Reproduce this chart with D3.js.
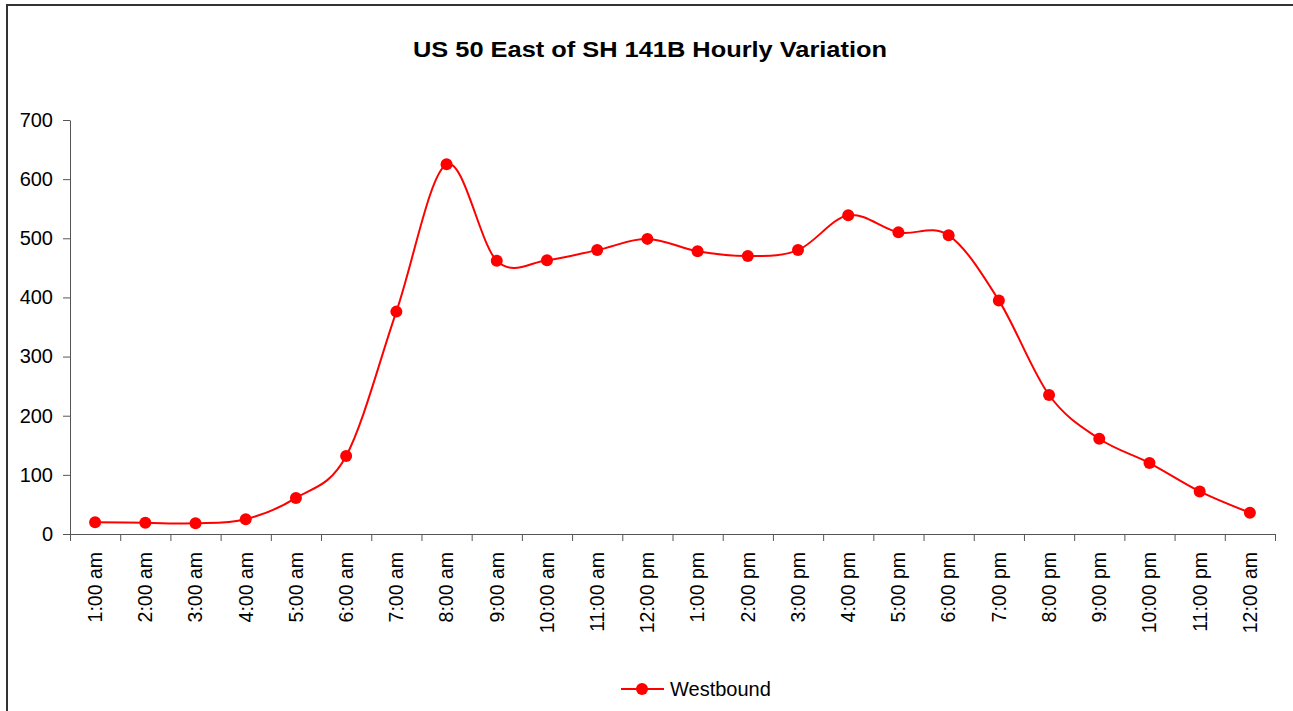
<!DOCTYPE html>
<html>
<head>
<meta charset="utf-8">
<script src="https://cdn.jsdelivr.net/npm/d3@7"></script>
<style>
  body { margin: 0; background: #fff; }
  svg { display: block; font-family: "Liberation Sans", Arial, sans-serif; }
</style>
</head>
<body>
<svg id="chart" width="1293" height="711"></svg>
<script>
const hours = ["1:00 am", "2:00 am", "3:00 am", "4:00 am", "5:00 am", "6:00 am",
    "7:00 am", "8:00 am", "9:00 am", "10:00 am", "11:00 am", "12:00 pm",
    "1:00 pm", "2:00 pm", "3:00 pm", "4:00 pm", "5:00 pm", "6:00 pm",
    "7:00 pm", "8:00 pm", "9:00 pm", "10:00 pm", "11:00 pm", "12:00 am"];
const westbound = [20, 19, 18, 25, 61, 132, 376, 625, 462, 463, 480, 499,
    478, 470, 480, 539, 510, 505, 395, 235, 161, 120, 72, 36];
const yTicks = [0, 100, 200, 300, 400, 500, 600, 700];
const seriesName = "Westbound";
const title = "US 50 East of SH 141B Hourly Variation";

const margin = { left: 70, right: 18, top: 120, bottom: 177 };
const W = 1293, H = 711;
const width = W - margin.left - margin.right;
const height = H - margin.top - margin.bottom;

const svg = d3.select("#chart");

// chart frame (right/bottom edges are cut off in the original)
svg.append("rect")
    .attr("x", 7).attr("y", 5)
    .attr("width", W + 20).attr("height", H + 20)
    .attr("fill", "none")
    .attr("stroke", "#333")
    .attr("stroke-width", 2);

svg.append("text")
    .attr("x", 650).attr("y", 57)
    .attr("text-anchor", "middle")
    .attr("font-size", 22)
    .attr("font-weight", "bold")
    .attr("textLength", 474)
    .attr("lengthAdjust", "spacingAndGlyphs")
    .text(title);

const g = svg.append("g")
    .attr("transform", `translate(${margin.left},${margin.top})`);

const x = d3.scaleBand().domain(hours).range([0, width]);
const y = d3.scaleLinear().domain([0, 700]).range([height, 0]);

// Y axis
const yAxis = g.append("g")
    .call(d3.axisLeft(y).tickValues(yTicks).tickSize(7).tickPadding(10).tickSizeOuter(0));
yAxis.selectAll("text").attr("font-size", 20).attr("fill", "#000");
yAxis.selectAll("line, path").attr("stroke", "#555");

// X axis: ticks sit on the category boundaries
const xEdge = d3.scaleLinear().domain([0, hours.length]).range([0, width]);
const xAxis = g.append("g")
    .attr("transform", `translate(0,${height})`)
    .call(d3.axisBottom(xEdge).tickValues(d3.range(hours.length + 1)).tickSize(7).tickSizeOuter(0).tickFormat(""));
xAxis.selectAll("line, path").attr("stroke", "#555");

g.append("g")
    .attr("transform", `translate(0,${height})`)
    .call(d3.axisBottom(x).tickSize(0))
    .call(ax => ax.select(".domain").remove())
    .selectAll("text")
    .attr("font-size", 19.5)
    .attr("fill", "#000")
    .attr("transform", "rotate(-90)")
    .attr("x", -18)
    .attr("y", 0)
    .attr("dy", "0.35em")
    .style("text-anchor", "end");

// smoothed line
const line = d3.line()
    .x((d, i) => x(hours[i]) + x.bandwidth() / 2)
    .y(d => y(d))
    .curve(d3.curveCatmullRom.alpha(0));

g.append("path")
    .datum(westbound)
    .attr("fill", "none")
    .attr("stroke", "#ff0000")
    .attr("stroke-width", 2)
    .attr("d", line);

g.selectAll("circle.pt")
    .data(westbound)
    .enter()
    .append("circle")
    .attr("class", "pt")
    .attr("cx", (d, i) => x(hours[i]) + x.bandwidth() / 2)
    .attr("cy", d => y(d))
    .attr("r", 6)
    .attr("fill", "#ff0000");

// legend
const legend = svg.append("g").attr("transform", "translate(621,689)");
legend.append("line")
    .attr("x1", 0).attr("x2", 43)
    .attr("stroke", "#ff0000").attr("stroke-width", 2);
legend.append("circle").attr("cx", 21).attr("r", 6).attr("fill", "#ff0000");
legend.append("text")
    .attr("x", 49).attr("y", 7)
    .attr("font-size", 20)
    .text(seriesName);
</script>
</body>
</html>
